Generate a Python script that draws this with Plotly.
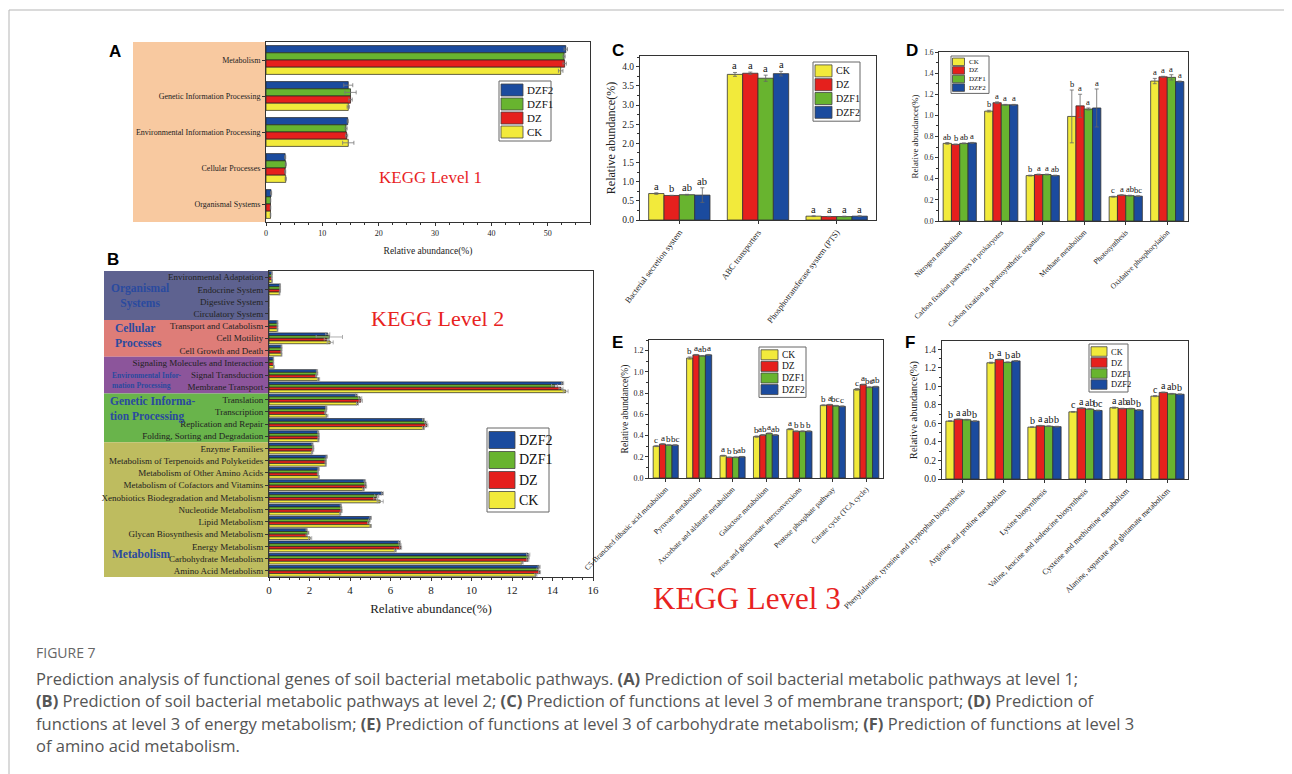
import plotly.graph_objects as go

OFF = 8                      # default page (body) margin of the html page
WF, HF = 1284, 766           # figure size so that figure + offset fills the 1292x774 window
def px(x): return (x - OFF) / WF
def py(y): return 1 - (y - OFF) / HF

SERIF = "Liberation Serif"
colors = {"CK": "#F2EA3B", "DZ": "#E5201D", "DZF1": "#68B42F", "DZF2": "#1B4B9E"}
order_h = ["DZF2", "DZF1", "DZ", "CK"]
order_v = ["CK", "DZ", "DZF1", "DZF2"]

# ---------------- Panel A data ----------------
a_cats = ["Metabolism", "Genetic Information Processing", "Environmental Information Processing",
          "Cellular Processes", "Organismal Systems"]
a_DZF2 = [53.2, 14.6, 14.5, 3.4, 0.9]
a_DZF1 = [52.9, 15.0, 14.2, 3.5, 0.8]
a_DZ = [53.0, 15.0, 14.3, 3.4, 0.8]
a_CK = [52.3, 14.6, 14.6, 3.5, 0.8]
a_err_DZF2 = [0.3, 0.8, 0.1, 0.1, 0.1]
a_err_DZF1 = [0.2, 1.0, 0.2, 0.1, 0.05]
a_err_DZ = [0.3, 0.3, 0.2, 0.1, 0.05]
a_err_CK = [0.4, 0.2, 1.0, 0.1, 0.05]

# ---------------- Panel B data ----------------
b_cats = ["Environmental Adaptation", "Endocrine System", "Digestive System", "Circulatory System",
          "Transport and Catabolism", "Cell Motility", "Cell Growth and Death",
          "Signaling Molecules and Interaction", "Signal Transduction", "Membrane Transport",
          "Translation", "Transcription", "Replication and Repair", "Folding, Sorting and Degradation",
          "Enzyme Families", "Metabolism of Terpenoids and Polyketides", "Metabolism of Other Amino Acids",
          "Metabolism of Cofactors and Vitamins", "Xenobiotics Biodegradation and Metabolism",
          "Nucleotide Metabolism", "Lipid Metabolism", "Glycan Biosynthesis and Metabolism",
          "Energy Metabolism", "Carbohydrate Metabolism", "Amino Acid Metabolism"]
b_DZF2 = [0.15, 0.55, 0.02, 0.02, 0.42, 2.90, 0.62, 0.22, 2.37, 14.50, 4.33, 2.83, 7.63, 2.43,
          2.15, 2.85, 2.45, 4.73, 5.60, 3.55, 5.02, 1.86, 6.44, 12.80, 13.34]
b_DZF1 = [0.14, 0.55, 0.02, 0.02, 0.42, 2.98, 0.62, 0.22, 2.38, 14.10, 4.50, 2.82, 7.74, 2.45,
          2.18, 2.80, 2.42, 4.76, 5.32, 3.57, 4.96, 1.94, 6.47, 12.80, 13.28]
b_DZ = [0.14, 0.55, 0.02, 0.02, 0.42, 2.85, 0.61, 0.22, 2.33, 14.42, 4.53, 2.78, 7.79, 2.45,
        2.18, 2.80, 2.42, 4.78, 5.27, 3.58, 4.91, 1.86, 6.50, 12.78, 13.36]
b_CK = [0.15, 0.52, 0.02, 0.02, 0.42, 3.02, 0.62, 0.24, 2.45, 14.65, 4.37, 2.86, 7.63, 2.44,
        2.13, 2.80, 2.46, 4.67, 5.49, 3.52, 5.02, 2.03, 6.24, 12.50, 13.18]
b_err_DZF2 = [0.01, 0.02, 0, 0, 0.02, 0.10, 0.02, 0.01, 0.03, 0.05, 0.05, 0.03, 0.05, 0.03,
              0.03, 0.03, 0.03, 0.04, 0.05, 0.03, 0.04, 0.03, 0.05, 0.08, 0.05]
b_err_DZF1 = [0.01, 0.02, 0, 0, 0.02, 0.65, 0.02, 0.01, 0.03, 0.15, 0.08, 0.03, 0.06, 0.03,
              0.03, 0.03, 0.03, 0.04, 0.10, 0.03, 0.04, 0.03, 0.05, 0.05, 0.05]
b_err_DZ = [0.01, 0.02, 0, 0, 0.02, 0.12, 0.02, 0.01, 0.03, 0.10, 0.08, 0.03, 0.06, 0.03,
            0.03, 0.03, 0.03, 0.04, 0.10, 0.03, 0.04, 0.03, 0.05, 0.05, 0.05]
b_err_CK = [0.01, 0.02, 0, 0, 0.02, 0.15, 0.02, 0.01, 0.05, 0.12, 0.05, 0.05, 0.05, 0.03,
            0.03, 0.03, 0.03, 0.04, 0.15, 0.03, 0.04, 0.08, 0.05, 0.05, 0.05]
b_bands = [("Organismal Systems", 0, 3, "#5E6290"), ("Cellular Processes", 4, 6, "#DE7D78"),
           ("Environmental Information Processing", 7, 9, "#8C559B"),
           ("Genetic Information Processing", 10, 13, "#69B44B"), ("Metabolism", 14, 24, "#BEBC5F")]

# ---------------- Panel C data ----------------
c_cats = ["Bacterial secretion system", "ABC transporters", "Phosphotransferase system (PTS)"]
c_CK = [0.69, 3.80, 0.10]
c_DZ = [0.64, 3.83, 0.09]
c_DZF1 = [0.66, 3.70, 0.09]
c_DZF2 = [0.65, 3.82, 0.10]
c_err_CK = [0.02, 0.05, 0.01]
c_err_DZ = [0.005, 0.03, 0.005]
c_err_DZF1 = [0.01, 0.08, 0.01]
c_err_DZF2 = [0.19, 0.06, 0.01]
c_sig_CK = ["a", "a", "a"]
c_sig_DZ = ["b", "a", "a"]
c_sig_DZF1 = ["ab", "a", "a"]
c_sig_DZF2 = ["ab", "a", "a"]

# ---------------- Panel D data ----------------
d_cats = ["Nitrogen metabolism", "Carbon fixation pathways in prokaryotes",
          "Carbon fixation in photosynthetic organisms", "Methane metabolism", "Photosynthesis",
          "Oxidative phosphorylation"]
d_CK = [0.735, 1.04, 0.43, 0.99, 0.23, 1.325]
d_DZ = [0.725, 1.12, 0.44, 1.09, 0.245, 1.365]
d_DZF1 = [0.735, 1.10, 0.44, 1.06, 0.24, 1.36]
d_DZF2 = [0.74, 1.10, 0.43, 1.07, 0.235, 1.32]
d_err_CK = [0.008, 0.008, 0.004, 0.25, 0.004, 0.025]
d_err_DZ = [0.004, 0.008, 0.004, 0.11, 0.004, 0.005]
d_err_DZF1 = [0.004, 0.004, 0.004, 0.01, 0.004, 0.025]
d_err_DZF2 = [0.004, 0.004, 0.004, 0.18, 0.004, 0.005]
d_sig_CK = ["ab", "b", "b", "b", "c", "a"]
d_sig_DZ = ["b", "a", "a", "a", "a", "a"]
d_sig_DZF1 = ["ab", "a", "a", "a", "ab", "a"]
d_sig_DZF2 = ["a", "a", "ab", "a", "bc", "a"]

# ---------------- Panel E data ----------------
e_cats = ["C5-Branched dibasic acid metabolism", "Pyruvate metabolism", "Ascorbate and aldarate metabolism",
          "Galactose metabolism", "Pentose and glucuronate interconversions", "Pentose phosphate pathway",
          "Citrate cycle (TCA cycle)"]
e_CK = [0.30, 1.13, 0.21, 0.39, 0.46, 0.685, 0.835]
e_DZ = [0.32, 1.16, 0.195, 0.405, 0.44, 0.69, 0.88]
e_DZF1 = [0.31, 1.15, 0.195, 0.42, 0.44, 0.68, 0.855]
e_DZF2 = [0.31, 1.16, 0.20, 0.405, 0.44, 0.675, 0.86]
e_err_CK = [0.004, 0.01, 0.004, 0.006, 0.005, 0.004, 0.008]
e_err_DZ = [0.003, 0.004, 0.003, 0.004, 0.004, 0.004, 0.004]
e_err_DZF1 = [0.003, 0.004, 0.003, 0.004, 0.004, 0.004, 0.004]
e_err_DZF2 = [0.003, 0.004, 0.003, 0.004, 0.004, 0.004, 0.004]
e_sig_CK = ["c", "b", "a", "b", "a", "b", "c"]
e_sig_DZ = ["a", "a", "b", "ab", "b", "a", "a"]
e_sig_DZF1 = ["b", "ab", "b", "a", "b", "bc", "bc"]
e_sig_DZF2 = ["bc", "a", "ab", "ab", "b", "c", "ab"]

# ---------------- Panel F data ----------------
f_cats = ["Phenylalanine, tyrosine and tryptophan biosynthesis", "Arginine and proline metabolism",
          "Lysine biosynthesis", "Valine, leucine and isoleucine biosynthesis",
          "Cysteine and methionine metabolism", "Alanine, aspartate and glutamate metabolism"]
f_CK = [0.625, 1.255, 0.56, 0.725, 0.77, 0.895]
f_DZ = [0.645, 1.29, 0.575, 0.765, 0.76, 0.935]
f_DZF1 = [0.64, 1.26, 0.57, 0.755, 0.76, 0.92]
f_DZF2 = [0.625, 1.275, 0.565, 0.74, 0.745, 0.915]
f_err_CK = [0.004, 0.006, 0.004, 0.004, 0.006, 0.006]
f_err_DZ = [0.004, 0.004, 0.004, 0.004, 0.004, 0.004]
f_err_DZF1 = [0.004, 0.004, 0.004, 0.004, 0.004, 0.004]
f_err_DZF2 = [0.004, 0.004, 0.004, 0.004, 0.004, 0.004]
f_sig_CK = ["b", "b", "b", "c", "a", "c"]
f_sig_DZ = ["a", "a", "a", "a", "ab", "a"]
f_sig_DZF1 = ["ab", "b", "ab", "ab", "ab", "ab"]
f_sig_DZF2 = ["b", "ab", "b", "bc", "b", "b"]

fig = go.Figure()
shapes = []
annots = []


def hbars(cats, vals, errs, xa, ya, gap, ecolor="#777"):
    w = (1 - gap) / 4
    for j, g in enumerate(order_h):
        fig.add_trace(go.Bar(
            y=cats, x=vals[g], orientation="h", xaxis=xa, yaxis=ya, name=g, showlegend=False,
            width=w, offset=-(1 - gap) / 2 + w * j,
            marker=dict(color=colors[g], line=dict(color="#222", width=0.7)),
            error_x=dict(type="data", array=errs[g], color=ecolor, thickness=0.8, width=2)))


def vbars(cats, vals, errs, sigs, xa, ya, gap, fsize):
    w = (1 - gap) / 4
    for j, g in enumerate(order_v):
        off = -(1 - gap) / 2 + w * j
        fig.add_trace(go.Bar(
            x=cats, y=vals[g], xaxis=xa, yaxis=ya, name=g, showlegend=False,
            width=w, offset=off,
            marker=dict(color=colors[g], line=dict(color="#333", width=0.8)),
            error_y=dict(type="data", array=errs[g], color="#666", thickness=0.8, width=2)))
        for i in range(len(cats)):
            annots.append(dict(x=i + off + w / 2, y=vals[g][i] + errs[g][i], xref=xa, yref=ya,
                               text=sigs[g][i], showarrow=False, yanchor="bottom", yshift=-1,
                               font=dict(family=SERIF, size=fsize, color="#111")))


def legend_box(x0, y0, names, sw_w, sw_h, row_h, fsize, box_w, pad=2):
    box_h = row_h * len(names) + 2 * pad
    shapes.append(dict(type="rect", xref="paper", yref="paper", x0=px(x0), x1=px(x0 + box_w),
                       y0=py(y0 + box_h), y1=py(y0), line=dict(color="#666", width=1),
                       fillcolor="white"))
    for k, n in enumerate(names):
        cy = y0 + pad + row_h * (k + 0.5)
        shapes.append(dict(type="rect", xref="paper", yref="paper", x0=px(x0 + pad),
                           x1=px(x0 + pad + sw_w), y0=py(cy + sw_h / 2), y1=py(cy - sw_h / 2),
                           line=dict(color="#444", width=0.8), fillcolor=colors[n]))
        annots.append(dict(x=px(x0 + pad + sw_w + 2), y=py(cy), xref="paper", yref="paper",
                           text=n, showarrow=False, xanchor="left", yanchor="middle",
                           font=dict(family=SERIF, size=fsize, color="#111")))


# ---- traces ----
hbars(a_cats, {"DZF2": a_DZF2, "DZF1": a_DZF1, "DZ": a_DZ, "CK": a_CK},
      {"DZF2": a_err_DZF2, "DZF1": a_err_DZF1, "DZ": a_err_DZ, "CK": a_err_CK}, "x", "y", 0.2)
hbars(b_cats, {"DZF2": b_DZF2, "DZF1": b_DZF1, "DZ": b_DZ, "CK": b_CK},
      {"DZF2": b_err_DZF2, "DZF1": b_err_DZF1, "DZ": b_err_DZ, "CK": b_err_CK}, "x2", "y2", 0.12,
      ecolor="#999")
vbars(c_cats, {"CK": c_CK, "DZ": c_DZ, "DZF1": c_DZF1, "DZF2": c_DZF2},
      {"CK": c_err_CK, "DZ": c_err_DZ, "DZF1": c_err_DZF1, "DZF2": c_err_DZF2},
      {"CK": c_sig_CK, "DZ": c_sig_DZ, "DZF1": c_sig_DZF1, "DZF2": c_sig_DZF2}, "x3", "y3", 0.22, 10.5)
vbars(d_cats, {"CK": d_CK, "DZ": d_DZ, "DZF1": d_DZF1, "DZF2": d_DZF2},
      {"CK": d_err_CK, "DZ": d_err_DZ, "DZF1": d_err_DZF1, "DZF2": d_err_DZF2},
      {"CK": d_sig_CK, "DZ": d_sig_DZ, "DZF1": d_sig_DZF1, "DZF2": d_sig_DZF2}, "x4", "y4", 0.2, 8.5)
vbars(e_cats, {"CK": e_CK, "DZ": e_DZ, "DZF1": e_DZF1, "DZF2": e_DZF2},
      {"CK": e_err_CK, "DZ": e_err_DZ, "DZF1": e_err_DZF1, "DZF2": e_err_DZF2},
      {"CK": e_sig_CK, "DZ": e_sig_DZ, "DZF1": e_sig_DZF1, "DZF2": e_sig_DZF2}, "x5", "y5", 0.25, 9)
vbars(f_cats, {"CK": f_CK, "DZ": f_DZ, "DZF1": f_DZF1, "DZF2": f_DZF2},
      {"CK": f_err_CK, "DZ": f_err_DZ, "DZF1": f_err_DZF1, "DZF2": f_err_DZF2},
      {"CK": f_sig_CK, "DZ": f_sig_DZ, "DZF1": f_sig_DZF1, "DZF2": f_sig_DZF2}, "x6", "y6", 0.19, 10)

# ---- backgrounds ----
shapes.append(dict(type="rect", xref="paper", yref="y domain", x0=px(133), x1=px(266), y0=0, y1=1,
                   fillcolor="#F8C9A0", line=dict(width=0), layer="below"))
for name, i0, i1, col in b_bands:
    shapes.append(dict(type="rect", xref="paper", yref="y2", x0=px(104), x1=px(268),
                       y0=i0 - 0.5, y1=i1 + 0.5, fillcolor=col, line=dict(width=0), layer="below"))
# outer frame of the figure page
shapes.append(dict(type="line", xref="paper", yref="paper", x0=px(9), x1=1, y0=py(10), y1=py(10),
                   line=dict(color="#B5B5B5", width=1)))
shapes.append(dict(type="line", xref="paper", yref="paper", x0=px(9), x1=px(9), y0=0, y1=py(10),
                   line=dict(color="#B5B5B5", width=1)))

# ---- legends ----
legend_box(499, 81, order_h, 22, 12, 14, 11, 52)
legend_box(487, 428, order_h, 26, 17, 20, 14, 62)
legend_box(813, 62, order_v, 17, 12, 13.8, 10, 47)
legend_box(951, 56, order_v, 12, 7.5, 8.6, 7, 38, pad=1.5)
legend_box(759, 347, order_v, 17, 10, 11.6, 9.5, 47)
legend_box(1089, 344, order_v, 16, 9.5, 11, 8.5, 39)

# ---- text ----
def txt(x, y, t, size, color="#111", family=SERIF, xanchor="center", yanchor="middle", align="center"):
    annots.append(dict(x=px(x), y=py(y), xref="paper", yref="paper", text=t, showarrow=False,
                       xanchor=xanchor, yanchor=yanchor, align=align,
                       font=dict(family=family, size=size, color=color)))

for lab, x, y in [("A", 115, 51), ("B", 113, 259), ("C", 618, 50), ("D", 912, 50), ("E", 617, 342), ("F", 910, 342)]:
    txt(x, y, "<b>%s</b>" % lab, 17, "#000", "Liberation Sans")

txt(430, 177, "KEGG Level 1", 17, "#E8231F")
txt(437, 318, "KEGG Level 2", 22, "#E8231F")
txt(747, 598, "KEGG Level 3", 31, "#E8231F")

GB = "#2A4A9F"
txt(140, 296, "<b>Organismal<br>Systems</b>", 11.5, GB)
txt(113, 335, "<b>Cellular<br>Processes</b>", 11.5, GB, xanchor="left", align="left")
txt(110, 380, "<b>Environmental Infor-<br>mation Processing</b>", 7.5, GB, xanchor="left", align="left")
txt(108, 409, "<b>Genetic Informa-<br>tion Processing</b>", 11.5, GB, xanchor="left", align="left")
txt(110, 554, "<b>Metabolism</b>", 11.5, GB, xanchor="left", align="left")

CAP = "#555"
txt(34, 652, "FIGURE 7", 14, "#666", "Open Sans", xanchor="left")
cap_lines = [
    "Prediction analysis of functional genes of soil bacterial metabolic pathways. <b>(A)</b> Prediction of soil bacterial metabolic pathways at level 1;",
    "<b>(B)</b> Prediction of soil bacterial metabolic pathways at level 2; <b>(C)</b> Prediction of functions at level 3 of membrane transport; <b>(D)</b> Prediction of",
    "functions at level 3 of energy metabolism; <b>(E)</b> Prediction of functions at level 3 of carbohydrate metabolism; <b>(F)</b> Prediction of functions at level 3",
    "of amino acid metabolism.",
]
for k, line in enumerate(cap_lines):
    txt(34, 678 + 22.5 * k, line, 16.5, CAP, "Open Sans", xanchor="left")

# ---- axes ----
def ax_common(size):
    return dict(showline=True, mirror=True, linecolor="#333", linewidth=1, showgrid=False,
                zeroline=False, ticks="outside", ticklen=3, tickcolor="#333", automargin=False,
                tickfont=dict(family=SERIF, size=size, color="#222"))

layout_axes = {}
layout_axes["xaxis"] = dict(**ax_common(8), domain=[px(266), px(590)], anchor="y", range=[0, 57.5],
                            dtick=10, minor=dict(ticks="outside", ticklen=2, dtick=2.5, tickcolor="#333"),
                            title=dict(text="Relative abundance(%)", standoff=10,
                                       font=dict(family=SERIF, size=9.5, color="#222")))
layout_axes["yaxis"] = dict(**ax_common(8), domain=[py(222), py(42)], anchor="x",
                            range=[len(a_cats) - 0.5, -0.5])
layout_axes["xaxis2"] = dict(**ax_common(11), domain=[px(269), px(593)], anchor="y2", range=[0, 16],
                             dtick=2, minor=dict(ticks="outside", ticklen=2, dtick=0.5, tickcolor="#333"),
                             title=dict(text="Relative abundance(%)", standoff=8,
                                        font=dict(family=SERIF, size=13, color="#222")))
layout_axes["yaxis2"] = dict(**ax_common(9), domain=[py(577), py(271)], anchor="x2",
                             range=[len(b_cats) - 0.5, -0.5])

def vaxes(n, xdom, ydom, yr, dt, xfs, yfs, tfs, angle, standoff):
    sx = str(n)
    layout_axes["xaxis" + sx] = dict(**ax_common(xfs), domain=[px(xdom[0]), px(xdom[1])],
                                     anchor="y" + sx, tickangle=angle)
    layout_axes["yaxis" + sx] = dict(**ax_common(yfs), domain=[py(ydom[1]), py(ydom[0])],
                                     anchor="x" + sx, range=yr, dtick=dt, tickformat=".1f",
                                     minor=dict(ticks="outside", ticklen=2, dtick=dt / 2, tickcolor="#333"),
                                     title=dict(text="Relative abundance(%)", standoff=standoff,
                                                font=dict(family=SERIF, size=tfs, color="#222")))

vaxes(3, (640, 876), (56, 220), [0, 4.28], 0.5, 8.5, 9.5, 12, -53, 4)
vaxes(4, (939, 1188), (52, 221), [0, 1.6], 0.2, 7.5, 7.5, 9, -45, 3)
vaxes(5, (649, 883), (340, 478), [0, 1.3], 0.2, 7.5, 8, 9.5, -45, 3)
vaxes(6, (942, 1188), (341, 479), [0, 1.49], 0.2, 8, 9.5, 10.5, -45, 4)
for n, cats in [(3, c_cats), (4, d_cats), (5, e_cats), (6, f_cats)]:
    layout_axes["xaxis%d" % n]["range"] = [-0.5, len(cats) - 0.5]

fig.update_layout(
    width=WF, height=HF, margin=dict(l=0, r=0, t=0, b=0, pad=0, autoexpand=False),
    paper_bgcolor="white", plot_bgcolor="white", barmode="overlay",
    showlegend=False, shapes=shapes, annotations=annots, **layout_axes)

fig.write_html("out.html")
